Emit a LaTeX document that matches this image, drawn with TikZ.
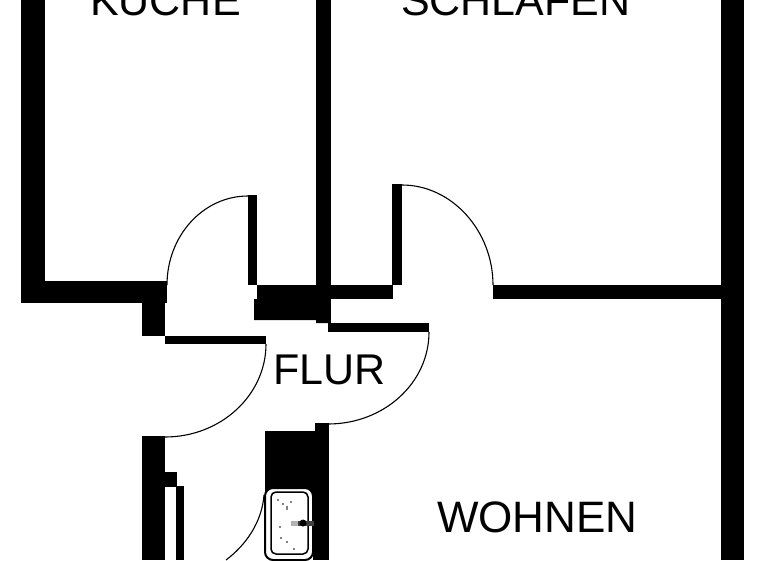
\documentclass[tikz,border=0pt]{standalone}
\usepackage{fontspec}
\setmainfont{Liberation Sans}
\tikzset{
  wall/.style={fill=black,draw=none},
  swing/.style={draw=black,line width=1.1pt},
  room/.style={anchor=base west,inner sep=0pt,font=\fontsize{43}{43}\selectfont,text=black}
}
\begin{document}
\begin{tikzpicture}[x=1pt,y=-1pt]
\useasboundingbox (0,0) rectangle (768,560);
\clip (0,0) rectangle (768,560);
\fill[white] (0,0) rectangle (768,560);
% outer walls
\fill[wall] (21,0) rectangle (45,281);
\fill[wall] (21,281) rectangle (167,303);
\fill[wall] (142,303) rectangle (165,336);
\fill[wall] (721,0) rectangle (744,560);
\fill[wall] (493,285) rectangle (721,299);
% centre wall and block
\fill[wall] (316,0) rectangle (331,323);
\fill[wall] (257,285) rectangle (393,299);
\fill[wall] (254,299) -- (257,299) -- (316,299) -- (328,299) -- (328,323) -- (316,323) -- (316,320) -- (254,320) -- cycle;
% door leaves
\fill[wall] (248,195) rectangle (257,285);
\fill[wall] (392,184) rectangle (402,285);
% thin walls
\fill[wall] (165,336) rectangle (266,344);
\fill[wall] (328,323) rectangle (429,332);
% lower walls
\fill[wall] (142,436) rectangle (165,560);
\fill[wall] (165,472) rectangle (177,487);
\fill[wall] (176,486) rectangle (184,560);
\fill[wall] (265,431) rectangle (329,496);
\fill[wall] (315,423) rectangle (329,431);
\fill[wall] (313,488) rectangle (329,560);
% door swings
\draw[swing] (248,196) .. controls (203,196) and (167,236) .. (167,285);
\draw[swing] (402,185) .. controls (452,185) and (493,231) .. (493,285);
\draw[swing] (429,332) .. controls (429,383) and (384,424) .. (328,424);
\draw[swing] (266,344) .. controls (266,395) and (221,437) .. (165,437);
\draw[swing] (264,495) .. controls (262,522) and (246,545) .. (226,560);
% basin
\draw[black,fill=white,line width=2pt,rounded corners=8pt] (265,488) rectangle (313,560);
\draw[black,line width=1.5pt,rounded corners=5pt] (271,492) rectangle (308,554);
\fill[gray!60] (291,521) rectangle (298,526);
\fill[black!75] (298,521) rectangle (314,526);
\fill[black] (303,523) circle (3.5);
\foreach \p in {(278,500),(283,504),(287,507),(291,502),(287,509),(280,527),(281,538),(287,542),(294,549)}
  \fill[black] \p circle (0.8);
% labels
\node[room] (kueche) at (90,15) {KÜCHE};
\node[room] (schlafen) at (401,15) {SCHLAFEN};
\node[room] (flur) at (273,384) {FLUR};
\node[room,font=\fontsize{44}{44}\selectfont] (wohnen) at (437,532) {WOHNEN};
\end{tikzpicture}
\end{document}
